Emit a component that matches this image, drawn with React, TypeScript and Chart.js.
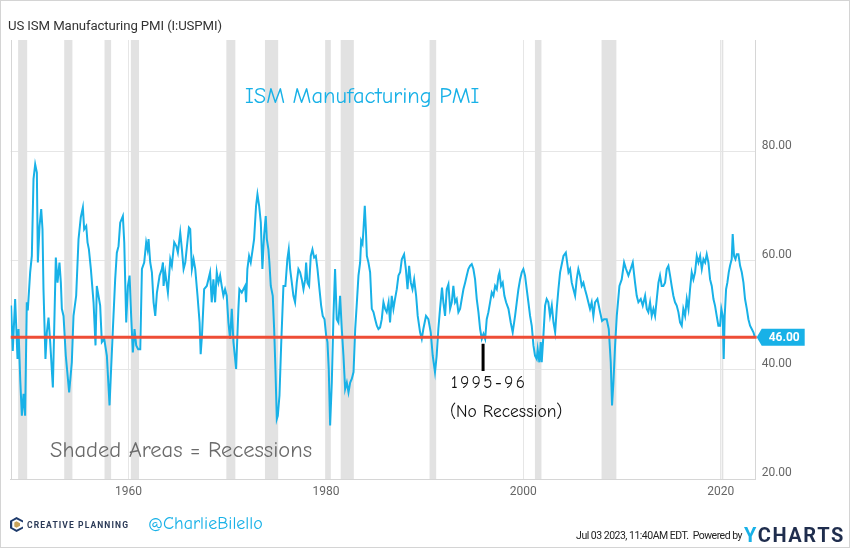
import React, { useEffect, useRef } from "react";
import { Chart, registerables } from "chart.js";

Chart.register(...registerables);

// ---- Data (decimal year, ISM Manufacturing PMI) ----
const dates = [
  1948.12, 1948.29, 1948.53, 1948.77, 1948.87, 1949.05, 1949.21, 1949.38, 1949.54, 1949.71, 1949.81,
  1950.05, 1950.22, 1950.39, 1950.56, 1950.73, 1950.83, 1951.0, 1951.17, 1951.3, 1951.4, 1951.6, 1951.74, 1951.91,
  1952.08, 1952.35, 1952.65, 1952.82, 1953.02, 1953.16, 1953.26, 1953.43, 1953.66, 1954.0, 1954.27, 1954.44, 1954.71, 1954.95,
  1955.18, 1955.39, 1955.52, 1955.73, 1955.86, 1956.0, 1956.2, 1956.47, 1956.67, 1956.8, 1956.97,
  1957.14, 1957.31, 1957.55, 1957.82, 1958.09, 1958.22, 1958.43, 1958.66, 1958.83, 1959.0, 1959.17, 1959.44, 1959.58, 1959.68, 1959.78, 1959.95,
  1960.12, 1960.28, 1960.45, 1960.62, 1960.79, 1960.99, 1961.2, 1961.37, 1961.6, 1961.8, 1961.94,
  1962.04, 1962.21, 1962.38, 1962.55, 1962.72, 1962.89, 1963.16, 1963.39, 1963.5, 1963.56, 1963.73,
  1964.0, 1964.24, 1964.4, 1964.64, 1964.85, 1965.01, 1965.25, 1965.42, 1965.59, 1965.76, 1965.93,
  1966.13, 1966.26, 1966.43, 1966.6, 1966.77, 1967.0, 1967.21, 1967.32, 1967.45, 1967.67, 1967.94,
  1968.1, 1968.27, 1968.44, 1968.61, 1968.78, 1968.95, 1969.12, 1969.29, 1969.45, 1969.62, 1969.79, 1969.96,
  1970.13, 1970.3, 1970.47, 1970.64, 1970.91, 1971.14, 1971.24, 1971.48, 1971.65, 1971.82, 1971.92,
  1972.05, 1972.22, 1972.39, 1972.56, 1972.73, 1972.93, 1973.07, 1973.24, 1973.41, 1973.57, 1973.74, 1973.91,
  1974.02, 1974.18, 1974.28, 1974.42, 1974.62, 1974.76, 1974.89, 1975.03, 1975.13, 1975.3, 1975.47, 1975.7, 1975.9,
  1976.1, 1976.24, 1976.38, 1976.55, 1976.71, 1976.88, 1977.05, 1977.22, 1977.39, 1977.56, 1977.73, 1977.9,
  1978.0, 1978.13, 1978.3, 1978.47, 1978.64, 1978.81, 1978.98, 1979.15, 1979.35, 1979.52, 1979.68, 1979.86,
  1980.03, 1980.16, 1980.29, 1980.43, 1980.6, 1980.77, 1980.93, 1981.1, 1981.27, 1981.44, 1981.61, 1981.78, 1981.95,
  1982.12, 1982.29, 1982.46, 1982.63, 1982.8, 1982.97, 1983.14, 1983.3, 1983.47, 1983.57, 1983.71, 1983.81, 1983.94,
  1984.05, 1984.15, 1984.31, 1984.48, 1984.65, 1984.82, 1984.99, 1985.16, 1985.32, 1985.49, 1985.66, 1985.83,
  1986.0, 1986.16, 1986.35, 1986.5, 1986.67, 1986.84, 1987.0, 1987.18, 1987.35, 1987.52, 1987.69, 1987.92,
  1988.1, 1988.27, 1988.43, 1988.6, 1988.77, 1988.94, 1989.14, 1989.3, 1989.54, 1989.71, 1989.87,
  1990.14, 1990.38, 1990.62, 1990.82, 1991.05, 1991.22, 1991.39, 1991.56, 1991.76, 1991.9,
  1992.07, 1992.24, 1992.41, 1992.58, 1992.75, 1992.91, 1993.08, 1993.25, 1993.42, 1993.59, 1993.76, 1993.93,
  1994.1, 1994.27, 1994.43, 1994.6, 1994.77, 1994.94, 1995.11, 1995.28, 1995.45, 1995.62, 1995.79, 1995.96,
  1996.13, 1996.29, 1996.46, 1996.63, 1996.8, 1996.97, 1997.14, 1997.31, 1997.48, 1997.58, 1997.74, 1997.91,
  1998.08, 1998.25, 1998.49, 1998.72, 1998.92, 1999.16, 1999.33, 1999.5, 1999.67, 1999.84,
  2000.0, 2000.17, 2000.34, 2000.51, 2000.68, 2000.85, 2001.02, 2001.18, 2001.35, 2001.45, 2001.62, 2001.76, 2001.86,
  2002.03, 2002.2, 2002.36, 2002.53, 2002.7, 2002.88, 2003.05, 2003.22, 2003.38, 2003.55, 2003.72,
  2004.06, 2004.3, 2004.57, 2004.73, 2004.9, 2005.07, 2005.24, 2005.4, 2005.57, 2005.74, 2005.91,
  2006.08, 2006.24, 2006.42, 2006.58, 2006.75, 2006.92, 2007.09, 2007.26, 2007.5, 2007.77, 2007.97,
  2008.17, 2008.44, 2008.65, 2008.85, 2008.98, 2009.12, 2009.29, 2009.46, 2009.73, 2009.96,
  2010.2, 2010.4, 2010.64, 2010.87, 2011.08, 2011.31, 2011.48, 2011.65, 2011.89,
  2012.09, 2012.33, 2012.5, 2012.66, 2012.83, 2013.0, 2013.17, 2013.34, 2013.51, 2013.68, 2013.84,
  2014.01, 2014.18, 2014.35, 2014.52, 2014.69, 2014.86, 2015.02, 2015.19, 2015.36, 2015.53, 2015.7, 2015.87,
  2016.04, 2016.2, 2016.38, 2016.55, 2016.72, 2016.88, 2017.05, 2017.22, 2017.39, 2017.56, 2017.73, 2017.9,
  2018.07, 2018.24, 2018.41, 2018.57, 2018.74, 2018.91, 2019.08, 2019.25, 2019.41, 2019.58, 2019.75, 2019.92,
  2020.05, 2020.19, 2020.29, 2020.39, 2020.53, 2020.66, 2020.8, 2020.93, 2021.1, 2021.2, 2021.34, 2021.48, 2021.61, 2021.78, 2021.95,
  2022.12, 2022.29, 2022.45, 2022.63, 2022.79, 2022.96, 2023.13, 2023.3, 2023.45,
];

const pmi = [
  51.8, 43.5, 53.0, 42.0, 47.5, 38.0, 31.6, 35.6, 31.6, 52.4, 50.9,
  57.9, 60.9, 75.0, 77.7, 76.2, 59.7, 66.4, 69.5, 65.8, 54.8, 42.0, 46.9, 49.6,
  45.1, 36.8, 60.6, 56.0, 59.7, 56.0, 51.2, 49.9, 42.6, 35.9, 41.4, 49.9, 53.6, 64.0,
  68.0, 69.8, 65.8, 66.4, 63.4, 62.1, 58.5, 52.4, 44.5, 55.4, 53.6,
  51.8, 45.1, 45.7, 42.6, 33.5, 39.0, 47.5, 56.6, 61.5, 62.7, 67.0, 68.2, 63.4, 56.0, 48.7, 55.4,
  57.3, 49.9, 43.2, 47.5, 44.5, 43.8, 43.8, 58.5, 59.7, 63.4, 62.1,
  64.0, 59.7, 57.9, 52.4, 49.9, 54.2, 57.3, 58.5, 59.7, 55.4, 57.9,
  54.2, 60.3, 59.1, 63.4, 62.7, 61.5, 65.2, 62.1, 58.5, 59.7, 62.7,
  66.1, 65.8, 58.5, 60.3, 58.5, 53.6, 48.7, 42.9, 46.3, 54.8, 55.4,
  56.6, 57.9, 52.4, 56.6, 52.4, 57.9, 56.0, 57.3, 55.4, 53.6, 54.8, 53.6,
  48.7, 45.7, 51.2, 45.1, 40.2, 51.2, 54.8, 54.2, 54.8, 55.4, 52.4,
  58.5, 60.9, 59.7, 61.8, 64.0, 70.1, 72.2, 70.1, 67.0, 58.5, 64.6, 68.2,
  64.0, 62.1, 59.7, 55.4, 53.6, 47.5, 40.2, 31.0, 31.6, 35.3, 44.5, 55.4, 55.4,
  60.3, 62.1, 58.5, 56.0, 53.6, 52.4, 56.0, 58.5, 57.9, 56.6, 54.8, 56.6,
  59.7, 56.0, 55.4, 60.9, 62.1, 60.6, 60.9, 58.5, 54.8, 51.8, 49.9, 49.3,
  46.3, 45.1, 40.2, 29.8, 37.7, 49.9, 58.5, 49.3, 48.7, 53.6, 47.5, 42.6, 36.5,
  37.7, 35.9, 37.7, 38.4, 39.6, 47.5, 52.4, 57.3, 59.7, 63.7, 63.1, 65.8, 70.1,
  65.8, 60.9, 59.7, 57.9, 51.2, 50.6, 49.3, 48.1, 47.5, 47.8, 49.3, 52.4,
  51.2, 50.6, 52.4, 48.7, 53.6, 51.2, 53.0, 54.8, 57.3, 57.9, 60.3, 61.2,
  58.5, 54.8, 59.1, 56.0, 54.8, 56.6, 53.6, 49.9, 46.9, 45.7, 47.5,
  49.9, 49.3, 46.9, 42.6, 39.6, 42.6, 47.5, 51.2, 55.1, 52.4,
  49.9, 54.8, 55.7, 51.2, 52.4, 55.4, 52.4, 53.0, 50.6, 51.2, 53.0, 54.8,
  56.0, 57.3, 58.5, 59.1, 59.4, 58.5, 56.6, 53.0, 50.6, 47.5, 45.7, 46.6,
  45.7, 49.3, 50.6, 52.4, 54.2, 53.6, 55.4, 54.8, 57.3, 57.9, 55.4, 56.0,
  53.6, 52.4, 51.2, 48.7, 46.9, 49.9, 52.4, 54.8, 56.6, 57.9,
  58.5, 57.3, 54.8, 52.4, 49.9, 48.1, 44.5, 42.6, 42.0, 43.8, 41.4, 45.1, 41.4,
  46.3, 51.8, 53.0, 52.4, 49.9, 51.8, 48.7, 46.9, 51.2, 54.8, 57.9,
  60.9, 61.5, 57.9, 58.5, 56.0, 54.8, 53.6, 56.6, 58.5, 57.3, 55.4,
  56.0, 54.8, 53.6, 52.4, 51.2, 52.4, 49.9, 52.4, 53.0, 50.6, 49.0,
  49.3, 49.3, 47.5, 41.4, 33.5, 37.7, 44.5, 49.9, 55.4, 56.6,
  59.7, 58.5, 57.3, 58.5, 59.7, 56.0, 53.6, 52.4, 53.0,
  51.8, 53.6, 51.2, 50.6, 52.4, 49.9, 51.2, 49.9, 53.0, 56.0, 57.3,
  55.4, 55.4, 56.0, 58.5, 59.1, 57.3, 55.4, 53.6, 52.4, 51.8, 50.6, 48.7,
  48.1, 51.2, 49.9, 53.0, 51.2, 54.8, 57.9, 56.6, 57.9, 60.9, 59.7, 60.9,
  58.5, 60.3, 59.7, 61.2, 59.7, 56.6, 55.4, 53.0, 51.8, 49.9, 48.1, 48.1,
  51.2, 49.9, 42.0, 49.9, 54.8, 56.0, 57.9, 59.1, 60.3, 64.9, 60.9, 60.3, 61.2, 61.2, 59.1,
  57.9, 56.0, 53.0, 51.2, 49.3, 48.1, 47.5, 46.9, 46.0,
];

// NBER recessions (decimal years)
const recessionStarts = [1948.83, 1953.5, 1957.58, 1960.25, 1969.92, 1973.83, 1980.0, 1981.5, 1990.5, 2001.17, 2007.92, 2020.08];
const recessionEnds = [1949.75, 1954.33, 1958.25, 1961.08, 1970.83, 1975.17, 1980.5, 1982.83, 1991.17, 2001.83, 2009.42, 2020.25];

const xTickYears = [1960, 1980, 2000, 2020];
const yTickValues = [20, 40, 60, 80];
const referenceLevel = 46;
const latestLabel = "46.00";
const markerYear = 1995.92;
const markerTop = 44.8;
const markerBottom = 39.8;

const CYAN = "#18b1e7";
const RED = "#ee4d36";
const BAND = "#e2e2e2";
const GRID = "#e6e6e6";
const HAND = '"Comic Sans MS", "Comic Neue", "Segoe Print", cursive';

const overlayPlugin = {
  id: "overlayPlugin",
  beforeDatasetsDraw(chart: any) {
    const { ctx, chartArea, scales } = chart;
    const x = scales.x;
    ctx.save();
    ctx.fillStyle = BAND;
    for (let i = 0; i < recessionStarts.length; i++) {
      const x0 = x.getPixelForValue(recessionStarts[i]);
      const x1 = x.getPixelForValue(recessionEnds[i]);
      ctx.fillRect(x0, chartArea.top, x1 - x0, chartArea.bottom - chartArea.top);
    }
    ctx.strokeStyle = "#d6d6d6";
    ctx.lineWidth = 1;
    ctx.beginPath();
    ctx.moveTo(Math.round(chartArea.left) + 0.5, chartArea.top);
    ctx.lineTo(Math.round(chartArea.left) + 0.5, chartArea.bottom);
    ctx.stroke();
    ctx.restore();
  },
  afterDatasetsDraw(chart: any) {
    const { ctx, chartArea, scales } = chart;
    const x = scales.x;
    const y = scales.y;
    ctx.save();
    const yr = y.getPixelForValue(referenceLevel);
    ctx.strokeStyle = RED;
    ctx.lineWidth = 3;
    ctx.beginPath();
    ctx.moveTo(chartArea.left, yr);
    ctx.lineTo(chartArea.right + 1, yr);
    ctx.stroke();

    const mx = x.getPixelForValue(markerYear);
    ctx.strokeStyle = "#000";
    ctx.lineWidth = 3;
    ctx.beginPath();
    ctx.moveTo(mx, y.getPixelForValue(markerTop));
    ctx.lineTo(mx, y.getPixelForValue(markerBottom));
    ctx.stroke();

    const tipX = chartArea.right + 1;
    const boxL = tipX + 5;
    const boxR = boxL + 43;
    const h = 17;
    ctx.fillStyle = CYAN;
    ctx.beginPath();
    ctx.moveTo(tipX, yr);
    ctx.lineTo(boxL, yr - h / 2);
    ctx.lineTo(boxR, yr - h / 2);
    ctx.lineTo(boxR, yr + h / 2);
    ctx.lineTo(boxL, yr + h / 2);
    ctx.closePath();
    ctx.fill();
    ctx.fillStyle = "#fff";
    ctx.font = "bold 12px Roboto, sans-serif";
    ctx.textAlign = "center";
    ctx.textBaseline = "middle";
    ctx.fillText(latestLabel, (boxL + boxR) / 2 + 1, yr + 0.5);
    ctx.restore();
  },
};

export default function App() {
  const canvasRef = useRef<HTMLCanvasElement | null>(null);

  useEffect(() => {
    document.body.style.margin = "0";
    const canvas = canvasRef.current;
    if (!canvas) return;
    const points = dates.map((d, i) => ({ x: d, y: pmi[i] }));
    const chart = new Chart(canvas, {
      type: "line",
      data: {
        datasets: [
          {
            data: points,
            borderColor: CYAN,
            borderWidth: 2,
            pointRadius: 0,
            tension: 0,
            fill: false,
          },
        ],
      },
      options: {
        responsive: false,
        animation: false,
        devicePixelRatio: 1,
        layout: { padding: { left: 10.7, top: 40, right: 0, bottom: 0 } },
        plugins: { legend: { display: false }, tooltip: { enabled: false }, title: { display: false } },
        scales: {
          x: {
            type: "linear",
            position: "bottom",
            min: 1948.08,
            max: 2023.53,
            grid: { color: GRID, drawTicks: false, lineWidth: 1 },
            border: { color: "#d6d6d6" },
            ticks: {
              color: "#666",
              font: { family: "Roboto, sans-serif", size: 12 },
              padding: 6,
              maxRotation: 0,
              callback: (v: any) => String(v),
            },
            afterBuildTicks: (s: any) => {
              s.ticks = xTickYears.map((v) => ({ value: v }));
            },
            afterFit: (s: any) => {
              s.height = 69;
            },
          },
          y: {
            type: "linear",
            position: "right",
            min: 20,
            max: 100.5,
            grid: { color: GRID, drawTicks: false, lineWidth: 1 },
            border: { color: "#d6d6d6" },
            ticks: {
              color: "#666",
              font: { family: "Roboto, sans-serif", size: 12 },
              padding: 6,
              labelOffset: -6,
              callback: (v: any) => Number(v).toFixed(2),
            },
            afterBuildTicks: (s: any) => {
              s.ticks = yTickValues.map((v) => ({ value: v }));
            },
            afterFit: (s: any) => {
              s.width = 94.3;
            },
          },
        },
      },
      plugins: [overlayPlugin],
    });
    return () => chart.destroy();
  }, []);

  const abs = (style: React.CSSProperties): React.CSSProperties => ({
    position: "absolute",
    whiteSpace: "nowrap",
    margin: 0,
    ...style,
  });

  return (
    <div style={{ position: "relative", width: 850, height: 548, background: "#fff", overflow: "hidden" }}>
      <canvas ref={canvasRef} width={850} height={548} style={{ position: "absolute", left: 0, top: 0, width: 850, height: 548 }} />
      <div
        style={abs({
          left: 0,
          top: 0,
          width: 850,
          height: 548,
          boxSizing: "border-box",
          border: "1px solid #d4d4d4",
          pointerEvents: "none",
        })}
      />
      <div style={abs({ left: 8, top: 17, fontFamily: "Roboto, sans-serif", fontSize: 13.2, letterSpacing: -0.1, lineHeight: "18px", color: "#333" })}>
        US ISM Manufacturing PMI (I:USPMI)
      </div>
      <div style={abs({ left: 245, top: 81, fontFamily: HAND, fontSize: 22.5, lineHeight: "30px", color: CYAN })}>
        ISM Manufacturing PMI
      </div>
      <div style={abs({ left: 451, top: 371, fontFamily: HAND, fontSize: 17, letterSpacing: 2.5, lineHeight: "24px", color: "#111" })}>
        1995-96
      </div>
      <div style={abs({ left: 450, top: 399, fontFamily: HAND, fontSize: 17.5, lineHeight: "24px", color: "#111" })}>
        (No Recession)
      </div>
      <div style={abs({ left: 50, top: 435, fontFamily: HAND, fontSize: 22.5, lineHeight: "30px", color: "#6b6b6b" })}>
        Shaded Areas = Recessions
      </div>
      {/* footer */}
      <svg style={abs({ left: 10, top: 517 })} width={13} height={15} viewBox="0 0 13 15">
        <path d="M6.5 0 L13 3.5 L13 5.5 L6.5 2.2 L2.2 4.6 L2.2 10.4 L6.5 12.8 L13 9.5 L13 11.5 L6.5 15 L0 11.3 L0 3.7 Z" fill="#1d3a6b" />
        <path d="M6.5 4.2 L10 6.2 L10 8.8 L6.5 10.8 L4.3 9.5 L4.3 5.5 Z" fill="#c9a45c" />
      </svg>
      <div
        style={abs({
          left: 27,
          top: 519,
          fontFamily: "Roboto, sans-serif",
          fontWeight: 700,
          fontSize: 8.5,
          letterSpacing: 1.1,
          lineHeight: "12px",
          color: "#2b3a57",
        })}
      >
        CREATIVE PLANNING
      </div>
      <div style={abs({ left: 148, top: 511, fontFamily: HAND, fontSize: 18, lineHeight: "26px", color: CYAN })}>
        @CharlieBilello
      </div>
      <div
        style={abs({
          right: 850 - 742,
          top: 529,
          fontFamily: "Roboto, sans-serif",
          fontSize: 10.5,
          letterSpacing: -0.5,
          lineHeight: "14px",
          color: "#222",
        })}
      >
        Jul 03 2023, 11:40AM EDT.&nbsp; Powered by
      </div>
      <div
        style={abs({
          left: 744,
          top: 523,
          fontFamily: "Roboto, sans-serif",
          fontWeight: 700,
          fontSize: 20,
          letterSpacing: 1.6,
          lineHeight: "24px",
        })}
      >
        <span style={{ color: CYAN }}>Y</span>
        <span style={{ color: "#1f2d4d" }}>CHARTS</span>
      </div>
    </div>
  );
}
